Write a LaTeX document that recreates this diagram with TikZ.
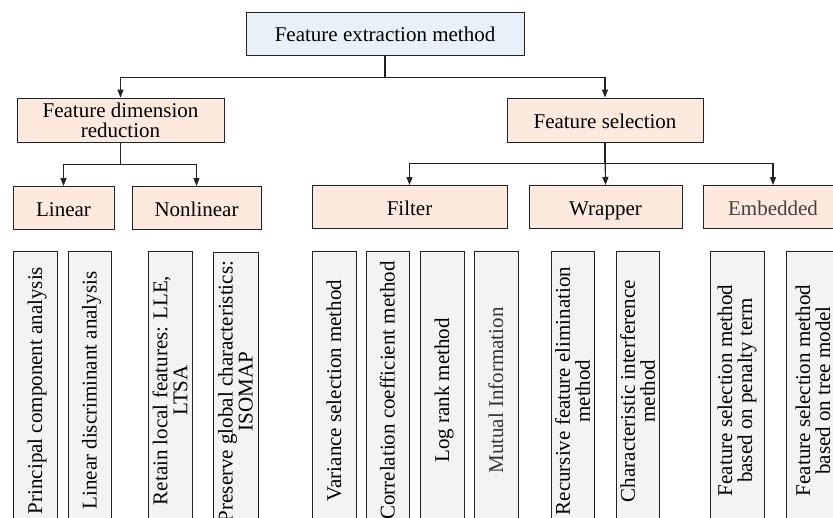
\documentclass[tikz,border=0pt]{standalone}
\usepackage{fontspec}
\setmainfont{Liberation Serif}
\usetikzlibrary{arrows.meta}
\definecolor{topfill}{HTML}{E8F0FA}
\definecolor{peach}{HTML}{FDE9DE}
\definecolor{leaf}{HTML}{F2F3F2}
\definecolor{edge}{HTML}{222222}
\tikzset{
  base/.style={draw=edge, line width=1pt, inner sep=0pt, align=center, text=black,
    font=\fontsize{21}{20}\selectfont},
  topbox/.style={base, fill=topfill, minimum height=43pt, text height=18pt, text depth=3pt},
  catbox/.style={base, fill=peach, minimum height=44pt},
  subbox/.style={base, fill=peach, minimum height=43pt, text height=19pt, text depth=2pt},
  leafbox/.style={base, fill=leaf, rotate=90, minimum width=279pt},
  oneline/.style={text height=17pt, text depth=3pt},
  arr/.style={draw=edge, line width=1.2pt, -{Triangle[length=8pt,width=6pt]}},
  ln/.style={draw=edge, line width=1.2pt}
}
\begin{document}
\begin{tikzpicture}[x=1pt,y=-1pt]
\useasboundingbox (0,0) rectangle (833,517);
\clip (0,0) rectangle (833,517);
\fill[white] (0,0) rectangle (833,517);
% level 0
\node[topbox, minimum width=278pt] (top) at (385,33.5) {Feature extraction method};
% level 1
\node[catbox, minimum width=207pt] (fdr) at (120.5,120) {Feature dimension\\reduction};
\node[catbox, minimum width=196pt, text height=19pt, text depth=2pt] (fs) at (605,120) {Feature selection};
% level 2
\node[subbox, minimum width=101pt] (lin) at (63.5,208) {Linear};
\node[subbox, minimum width=129pt] (nonlin) at (196.5,208) {Nonlinear};
\node[subbox, minimum width=195pt] (filter) at (409.5,207) {Filter};
\node[subbox, minimum width=153pt] (wrapper) at (605.5,207) {Wrapper};
\node[subbox, minimum width=140pt, text=black!75] (embedded) at (773,207) {Embedded};
% connectors
\draw[ln] (top.south) -- ++(0,22) coordinate (j0);
\draw[arr] (j0) -| (fdr.north);
\draw[arr] (j0) -| (fs.north);
\draw[ln] (fdr.south) -- ++(0,22) coordinate (j1);
\draw[arr] (j1) -| (lin.north);
\draw[arr] (j1) -| (nonlin.north);
\draw[arr] (fs.south) -- (wrapper.north);
\draw[ln] (fs.south) -- ++(0,21) coordinate (j2);
\draw[arr] (j2) -| (filter.north);
\draw[arr] (j2) -| (embedded.north);
% leaves
\node[leafbox, oneline, minimum height=44pt] (l1) at (35,390.5) {Principal component analysis};
\node[leafbox, oneline, minimum height=43pt] (l2) at (89.5,390.5) {Linear discriminant analysis};
\node[leafbox, minimum height=44pt] (l3) at (170,390.5) {Retain local features: LLE,\\LTSA};
\node[leafbox, minimum height=45pt] (l4) at (235.5,391.5) {Preserve global characteristics:\\ISOMAP};
\node[leafbox, oneline, minimum height=44pt] (l5) at (334,390.5) {Variance selection method};
\node[leafbox, oneline, minimum height=43pt] (l6) at (387.5,390.5) {Correlation coefficient method};
\node[leafbox, oneline, minimum height=44pt] (l7) at (442,390.5) {Log rank method};
\node[leafbox, oneline, minimum height=44pt, text=black!80] (l8) at (496,390.5) {Mutual Information};
\node[leafbox, minimum height=43pt] (l9) at (572.5,391) {Recursive feature elimination\\method};
\node[leafbox, minimum height=43pt] (l10) at (637.5,391) {Characteristic interference\\method};
\node[leafbox, minimum height=54pt] (l11) at (737,390.5) {Feature selection method\\based on penalty term};
\node[leafbox, minimum height=54pt] (l12) at (813,390.5) {Feature selection method\\based on tree model};
\end{tikzpicture}
\end{document}
